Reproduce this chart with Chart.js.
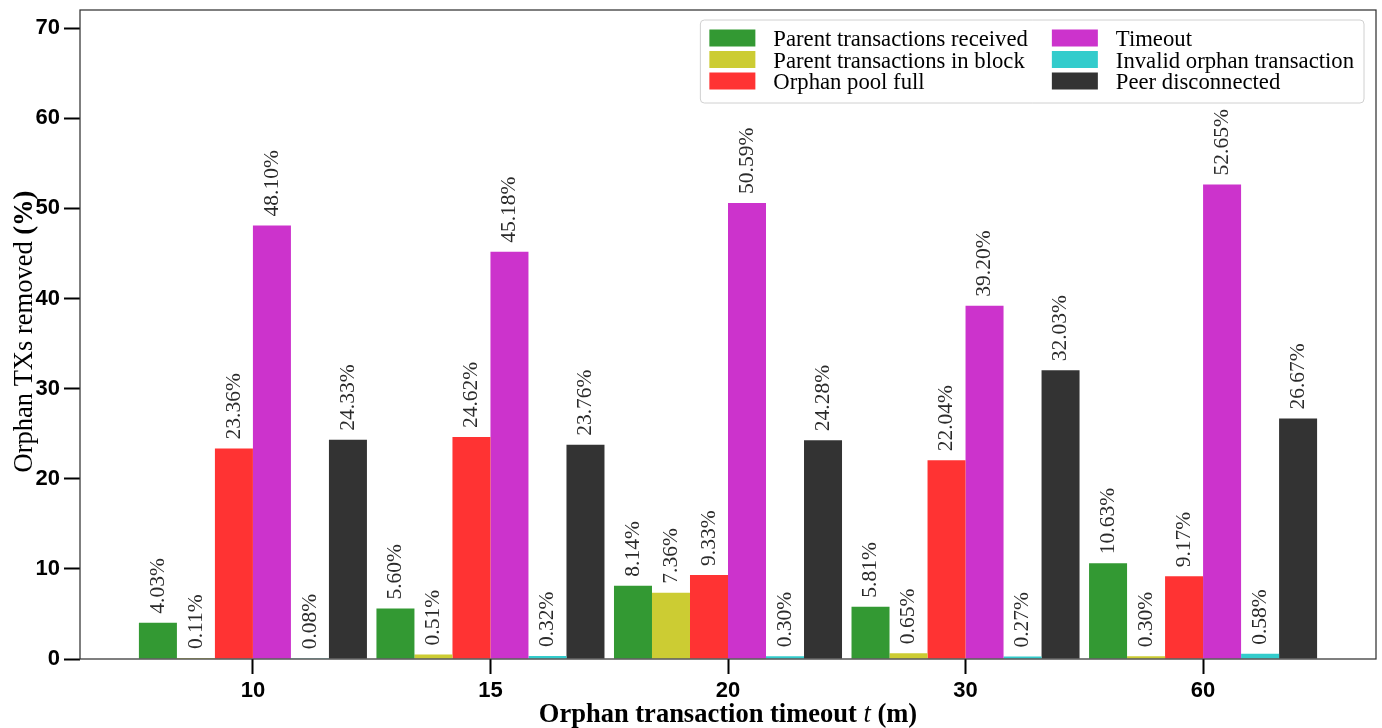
<!DOCTYPE html>
<html>
<head>
<meta charset="utf-8">
<title>Orphan transactions removed by reason</title>
<script src="https://cdn.jsdelivr.net/npm/chart.js@4.4.1/dist/chart.umd.min.js"></script>
<style>
  html, body { margin: 0; padding: 0; background: #fff; }
  #wrap { width: 1382px; height: 728px; position: relative; }
</style>
</head>
<body>
<div id="wrap"><canvas id="chart"></canvas></div>
<script>
// Orphan transaction timeout t (minutes)
const categories = ['10', '15', '20', '30', '60'];

// Share of removed orphan transactions per removal reason (%)
const parentReceived   = [4.03, 5.60, 8.14, 5.81, 10.63];
const parentInBlock    = [0.11, 0.51, 7.36, 0.65, 0.30];
const poolFull         = [23.36, 24.62, 9.33, 22.04, 9.17];
const timeoutRemoved   = [48.10, 45.18, 50.59, 39.20, 52.65];
const invalidOrphan    = [0.08, 0.32, 0.30, 0.27, 0.58];
const peerDisconnected = [24.33, 23.76, 24.28, 32.03, 26.67];

const yTicks = [0, 10, 20, 30, 40, 50, 60, 70];

const seriesNames = [
  'Parent transactions received',
  'Parent transactions in block',
  'Orphan pool full',
  'Timeout',
  'Invalid orphan transaction',
  'Peer disconnected'
];
const seriesValues = [parentReceived, parentInBlock, poolFull, timeoutRemoved, invalidOrphan, peerDisconnected];
const seriesColors = ['#339933', '#cccc33', '#ff3333', '#cc33cc', '#33cccc', '#333333'];

const SERIF = '"Liberation Serif", "DejaVu Serif", serif';
const SANS = '"Liberation Sans", Arial, sans-serif';

const datasets = seriesNames.map((name, s) => ({
  label: name,
  data: seriesValues[s].map((v, i) => ({ x: i, y: v })),
  backgroundColor: seriesColors[s],
  borderWidth: 0,
  categoryPercentage: 0.96,
  barPercentage: 1.0
}));

// Draws a line of text made of differently styled runs, centred on (cx, cy)
function drawRuns(ctx, runs, cx, cy, angle) {
  ctx.save();
  ctx.translate(cx, cy);
  ctx.rotate(angle);
  ctx.textBaseline = 'alphabetic';
  ctx.textAlign = 'left';
  let total = 0;
  runs.forEach(r => { ctx.font = r.font; r.w = ctx.measureText(r.text).width; total += r.w; });
  let x = -total / 2;
  runs.forEach(r => {
    ctx.font = r.font;
    ctx.fillStyle = '#000';
    ctx.fillText(r.text, x, 0);
    x += r.w;
  });
  ctx.restore();
}

// Box around the plotting area
const framePlugin = {
  id: 'frame',
  afterDatasetsDraw(chart) {
    const { ctx, chartArea: a } = chart;
    ctx.save();
    ctx.strokeStyle = '#333';
    ctx.lineWidth = 1.25;
    ctx.strokeRect(a.left, a.top, a.right - a.left, a.bottom - a.top);
    ctx.restore();
  }
};

// Rotated percentage labels above each bar
const valueLabelPlugin = {
  id: 'valueLabels',
  afterDatasetsDraw(chart) {
    const { ctx } = chart;
    ctx.save();
    ctx.font = '21.5px ' + SERIF;
    ctx.fillStyle = '#2a2a2a';
    ctx.textAlign = 'left';
    ctx.textBaseline = 'middle';
    chart.data.datasets.forEach((ds, di) => {
      const meta = chart.getDatasetMeta(di);
      meta.data.forEach((bar, i) => {
        const v = ds.data[i].y;
        ctx.save();
        ctx.translate(bar.x, bar.y - 9);
        ctx.rotate(-Math.PI / 2);
        ctx.fillText(v.toFixed(2) + '%', 0, 0);
        ctx.restore();
      });
    });
    ctx.restore();
  }
};

// Two-column legend in the upper right corner of the plot
const legendPlugin = {
  id: 'boxLegend',
  afterDraw(chart) {
    const { ctx, chartArea: a } = chart;
    const ds = chart.data.datasets;
    const rows = 3;
    const font = '22.7px ' + SERIF;
    ctx.save();
    ctx.font = font;
    const cols = [ds.slice(0, rows), ds.slice(rows)];
    const colText = cols.map(c => Math.max(...c.map(d => ctx.measureText(d.label).width)));
    const padL = 9, sw = 46, sh = 17, gap = 18, colGap = 24, padR = 10;
    const rowH = 21.5, padT = 18;
    const width = padL + sw + gap + colText[0] + colGap + sw + gap + colText[1] + padR;
    const height = 83;
    const right = a.right - 12;
    const top = a.top + 10;
    const left = right - width;

    ctx.beginPath();
    ctx.roundRect(left, top, width, height, 4);
    ctx.fillStyle = 'rgba(255,255,255,0.85)';
    ctx.fill();
    ctx.strokeStyle = '#d0d0d0';
    ctx.lineWidth = 1;
    ctx.stroke();

    ctx.textAlign = 'left';
    ctx.textBaseline = 'middle';
    cols.forEach((c, ci) => {
      const x0 = left + padL + (ci === 0 ? 0 : sw + gap + colText[0] + colGap);
      c.forEach((d, ri) => {
        const cy = top + padT + ri * rowH;
        ctx.fillStyle = d.backgroundColor;
        ctx.fillRect(x0, cy - sh / 2, sw, sh);
        ctx.fillStyle = '#000';
        ctx.fillText(d.label, x0 + sw + gap, cy + 2.5);
      });
    });
    ctx.restore();
  }
};

// Axis titles
const axisTitlePlugin = {
  id: 'axisTitles',
  afterDraw(chart) {
    const { ctx, chartArea: a } = chart;
    drawRuns(ctx, [
      { text: 'Orphan transaction timeout ', font: 'bold 26.5px ' + SERIF },
      { text: 't', font: 'italic 26.5px ' + SERIF },
      { text: ' (m)', font: 'bold 26.5px ' + SERIF }
    ], (a.left + a.right) / 2, 722, 0);
    drawRuns(ctx, [
      { text: 'Orphan TXs removed ', font: '26.5px ' + SERIF },
      { text: '(%)', font: 'bold 26.5px ' + SERIF }
    ], 32, (a.top + a.bottom) / 2 - 3, -Math.PI / 2);
  }
};

new Chart(document.getElementById('chart'), {
  type: 'bar',
  data: { datasets },
  options: {
    responsive: true,
    maintainAspectRatio: false,
    animation: false,
    layout: { padding: { left: 0, right: 6, top: 10, bottom: 0 } },
    plugins: {
      legend: { display: false },
      tooltip: { enabled: false }
    },
    scales: {
      x: {
        type: 'linear',
        min: -0.728,
        max: 4.728,
        offset: false,
        afterBuildTicks: scale => { scale.ticks = categories.map((_, i) => ({ value: i })); },
        afterFit: scale => { scale.height = 69; scale.paddingLeft = 0; scale.paddingRight = 0; },
        ticks: {
          callback: v => categories[v],
          font: { family: SANS, size: 22, weight: 'bold' },
          color: '#000',
          padding: 4,
          maxRotation: 0,
          autoSkip: false
        },
        grid: {
          display: true,
          drawOnChartArea: false,
          drawTicks: true,
          tickLength: 15,
          tickWidth: 2,
          tickColor: '#000',
          offset: false
        },
        border: { display: false }
      },
      y: {
        min: 0,
        max: 72,
        afterBuildTicks: scale => { scale.ticks = yTicks.map(v => ({ value: v })); },
        afterFit: scale => { scale.width = 80; scale.paddingTop = 0; scale.paddingBottom = 0; },
        ticks: {
          callback: v => String(v),
          font: { family: SANS, size: 22, weight: 'bold' },
          color: '#000',
          padding: 4
        },
        grid: {
          display: true,
          drawOnChartArea: false,
          drawTicks: true,
          tickLength: 16,
          tickWidth: 2,
          tickColor: '#000'
        },
        border: { display: false }
      }
    }
  },
  plugins: [framePlugin, valueLabelPlugin, legendPlugin, axisTitlePlugin]
});
</script>
</body>
</html>
